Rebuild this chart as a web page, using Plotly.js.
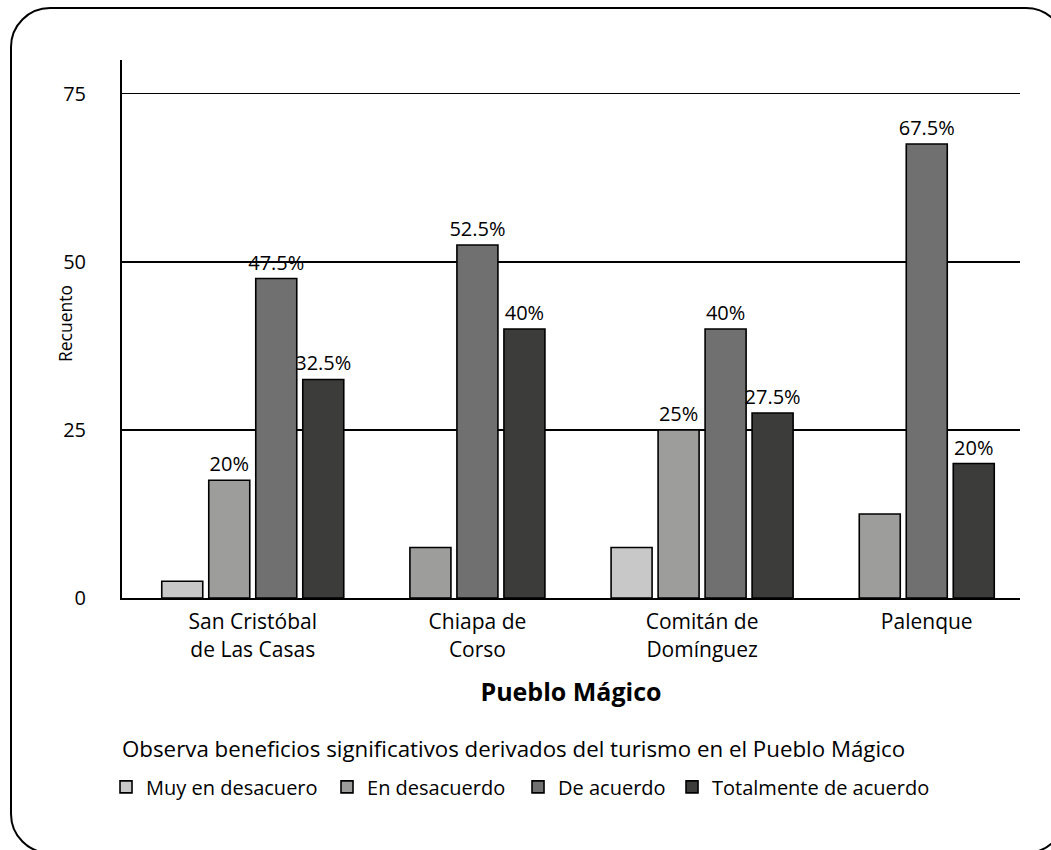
<!DOCTYPE html>
<html>
<head>
<meta charset="utf-8">
<script src="https://cdn.plot.ly/plotly-3.0.1.min.js"></script>
<style>
  html, body { margin: 0; padding: 0; background: #fff; }
  #wrap { position: relative; width: 1051px; height: 850px; overflow: hidden; }
  #chart { position: absolute; left: 0; top: 0; width: 1051px; height: 850px; }
  #frame { position: absolute; left: 10px; top: 7px; width: 1056px; height: 847px; box-sizing: border-box;
           border: 2px solid #000; border-radius: 40px; pointer-events: none; }
</style>
</head>
<body>
<div id="wrap">
  <div id="chart"></div>
  <div id="frame"></div>
</div>
<script>
// ---- data ----
const categories = ["San Cristóbal<br>de Las Casas", "Chiapa de<br>Corso", "Comitán de<br>Domínguez", "Palenque"];
const seriesNames = ["Muy en desacuero", "En desacuerdo", "De acuerdo", "Totalmente de acuerdo"];
const muyDesacuerdo   = [2.5, null, 7.5, null];
const enDesacuerdo    = [17.5, 7.5, 25, 12.5];
const deAcuerdo       = [47.5, 52.5, 40, 67.5];
const totalmente      = [32.5, 40, 27.5, 20];
const labelsMuy       = ["", "", "", ""];
const labelsEn        = ["20%", "", "25%", ""];
const labelsDe        = ["47.5%", "52.5%", "40%", "67.5%"];
const labelsTot       = ["32.5%", "40%", "27.5%", "20%"];
const yTicks = [0, 25, 50, 75];
const legendTitle = "Observa beneficios significativos derivados del turismo en el Pueblo Mágico";

// ---- styling ----
const colors = ["#c8c8c8", "#9d9d9c", "#707070", "#3c3c3b"];
const FONT = "Open Sans, Noto Sans, sans-serif";
const barWidth = 0.1825;
const slotStep = 0.2092;
const legendX = [-0.0178, 0.2283, 0.441, 0.6125];
const legendIds = ["legend", "legend2", "legend3", "legend4"];

const series = [muyDesacuerdo, enDesacuerdo, deAcuerdo, totalmente];
const labels = [labelsMuy, labelsEn, labelsDe, labelsTot];

// positions: bars of each category are centred on the category, skipping missing series
const positions = series.map(() => categories.map(() => null));
categories.forEach((c, ci) => {
  const present = series.map((s, si) => s[ci] !== null ? si : -1).filter(si => si >= 0);
  present.forEach((si, k) => {
    positions[si][ci] = ci + (k - (present.length - 1) / 2) * slotStep;
  });
});

const traces = series.map((s, si) => ({
  type: "bar",
  name: seriesNames[si],
  legend: legendIds[si],
  x: positions[si],
  y: s,
  width: barWidth,
  text: labels[si],
  textposition: "outside",
  constraintext: "none",
  cliponaxis: false,
  textfont: { family: FONT, size: 20, color: "#000" },
  marker: { color: colors[si], line: { color: "#000", width: 1.6 } },
  hoverinfo: "y+name"
}));

const layout = {
  width: 1051, height: 850,
  margin: { l: 122, r: 31, t: 60, b: 252 },
  paper_bgcolor: "#fff", plot_bgcolor: "#fff",
  font: { family: FONT, color: "#000" },
  barmode: "overlay",
  showlegend: true,
  xaxis: {
    range: [-0.582, 3.415],
    tickvals: categories.map((c, i) => i),
    ticktext: categories,
    tickfont: { size: 21, family: FONT },
    ticklabelstandoff: 4,
    ticks: "", showgrid: false, zeroline: false,
    showline: true, linecolor: "#000", linewidth: 2,
    title: { text: "<b>Pueblo Mágico</b>", font: { size: 25, family: FONT }, standoff: 22 }
  },
  yaxis: {
    range: [0, 80],
    tickvals: yTicks,
    ticks: "",
    ticklabelstandoff: 30,
    tickfont: { size: 20, family: FONT },
    showgrid: true, gridcolor: "#000", gridwidth: 1.5,
    zeroline: false,
    showline: true, linecolor: "#000", linewidth: 2
  },
  annotations: [
    {
      text: "Recuento", textangle: -90,
      xref: "paper", yref: "paper",
      x: -0.0635, y: 0.511, xanchor: "center", yanchor: "middle",
      showarrow: false, font: { size: 17.5, family: FONT }
    },
    {
      text: legendTitle,
      xref: "paper", yref: "paper",
      x: -0.002, y: -0.279, xanchor: "left", yanchor: "middle",
      showarrow: false, font: { size: 22.3, family: FONT }
    }
  ]
};

legendIds.forEach((id, i) => {
  layout[id] = {
    orientation: "h",
    x: legendX[i], xanchor: "left",
    y: -0.351, yanchor: "middle",
    font: { size: 20, family: FONT },
    bgcolor: "rgba(0,0,0,0)",
    itemclick: false
  };
});

Plotly.newPlot("chart", traces, layout, { displayModeBar: false, staticPlot: true });
</script>
</body>
</html>
